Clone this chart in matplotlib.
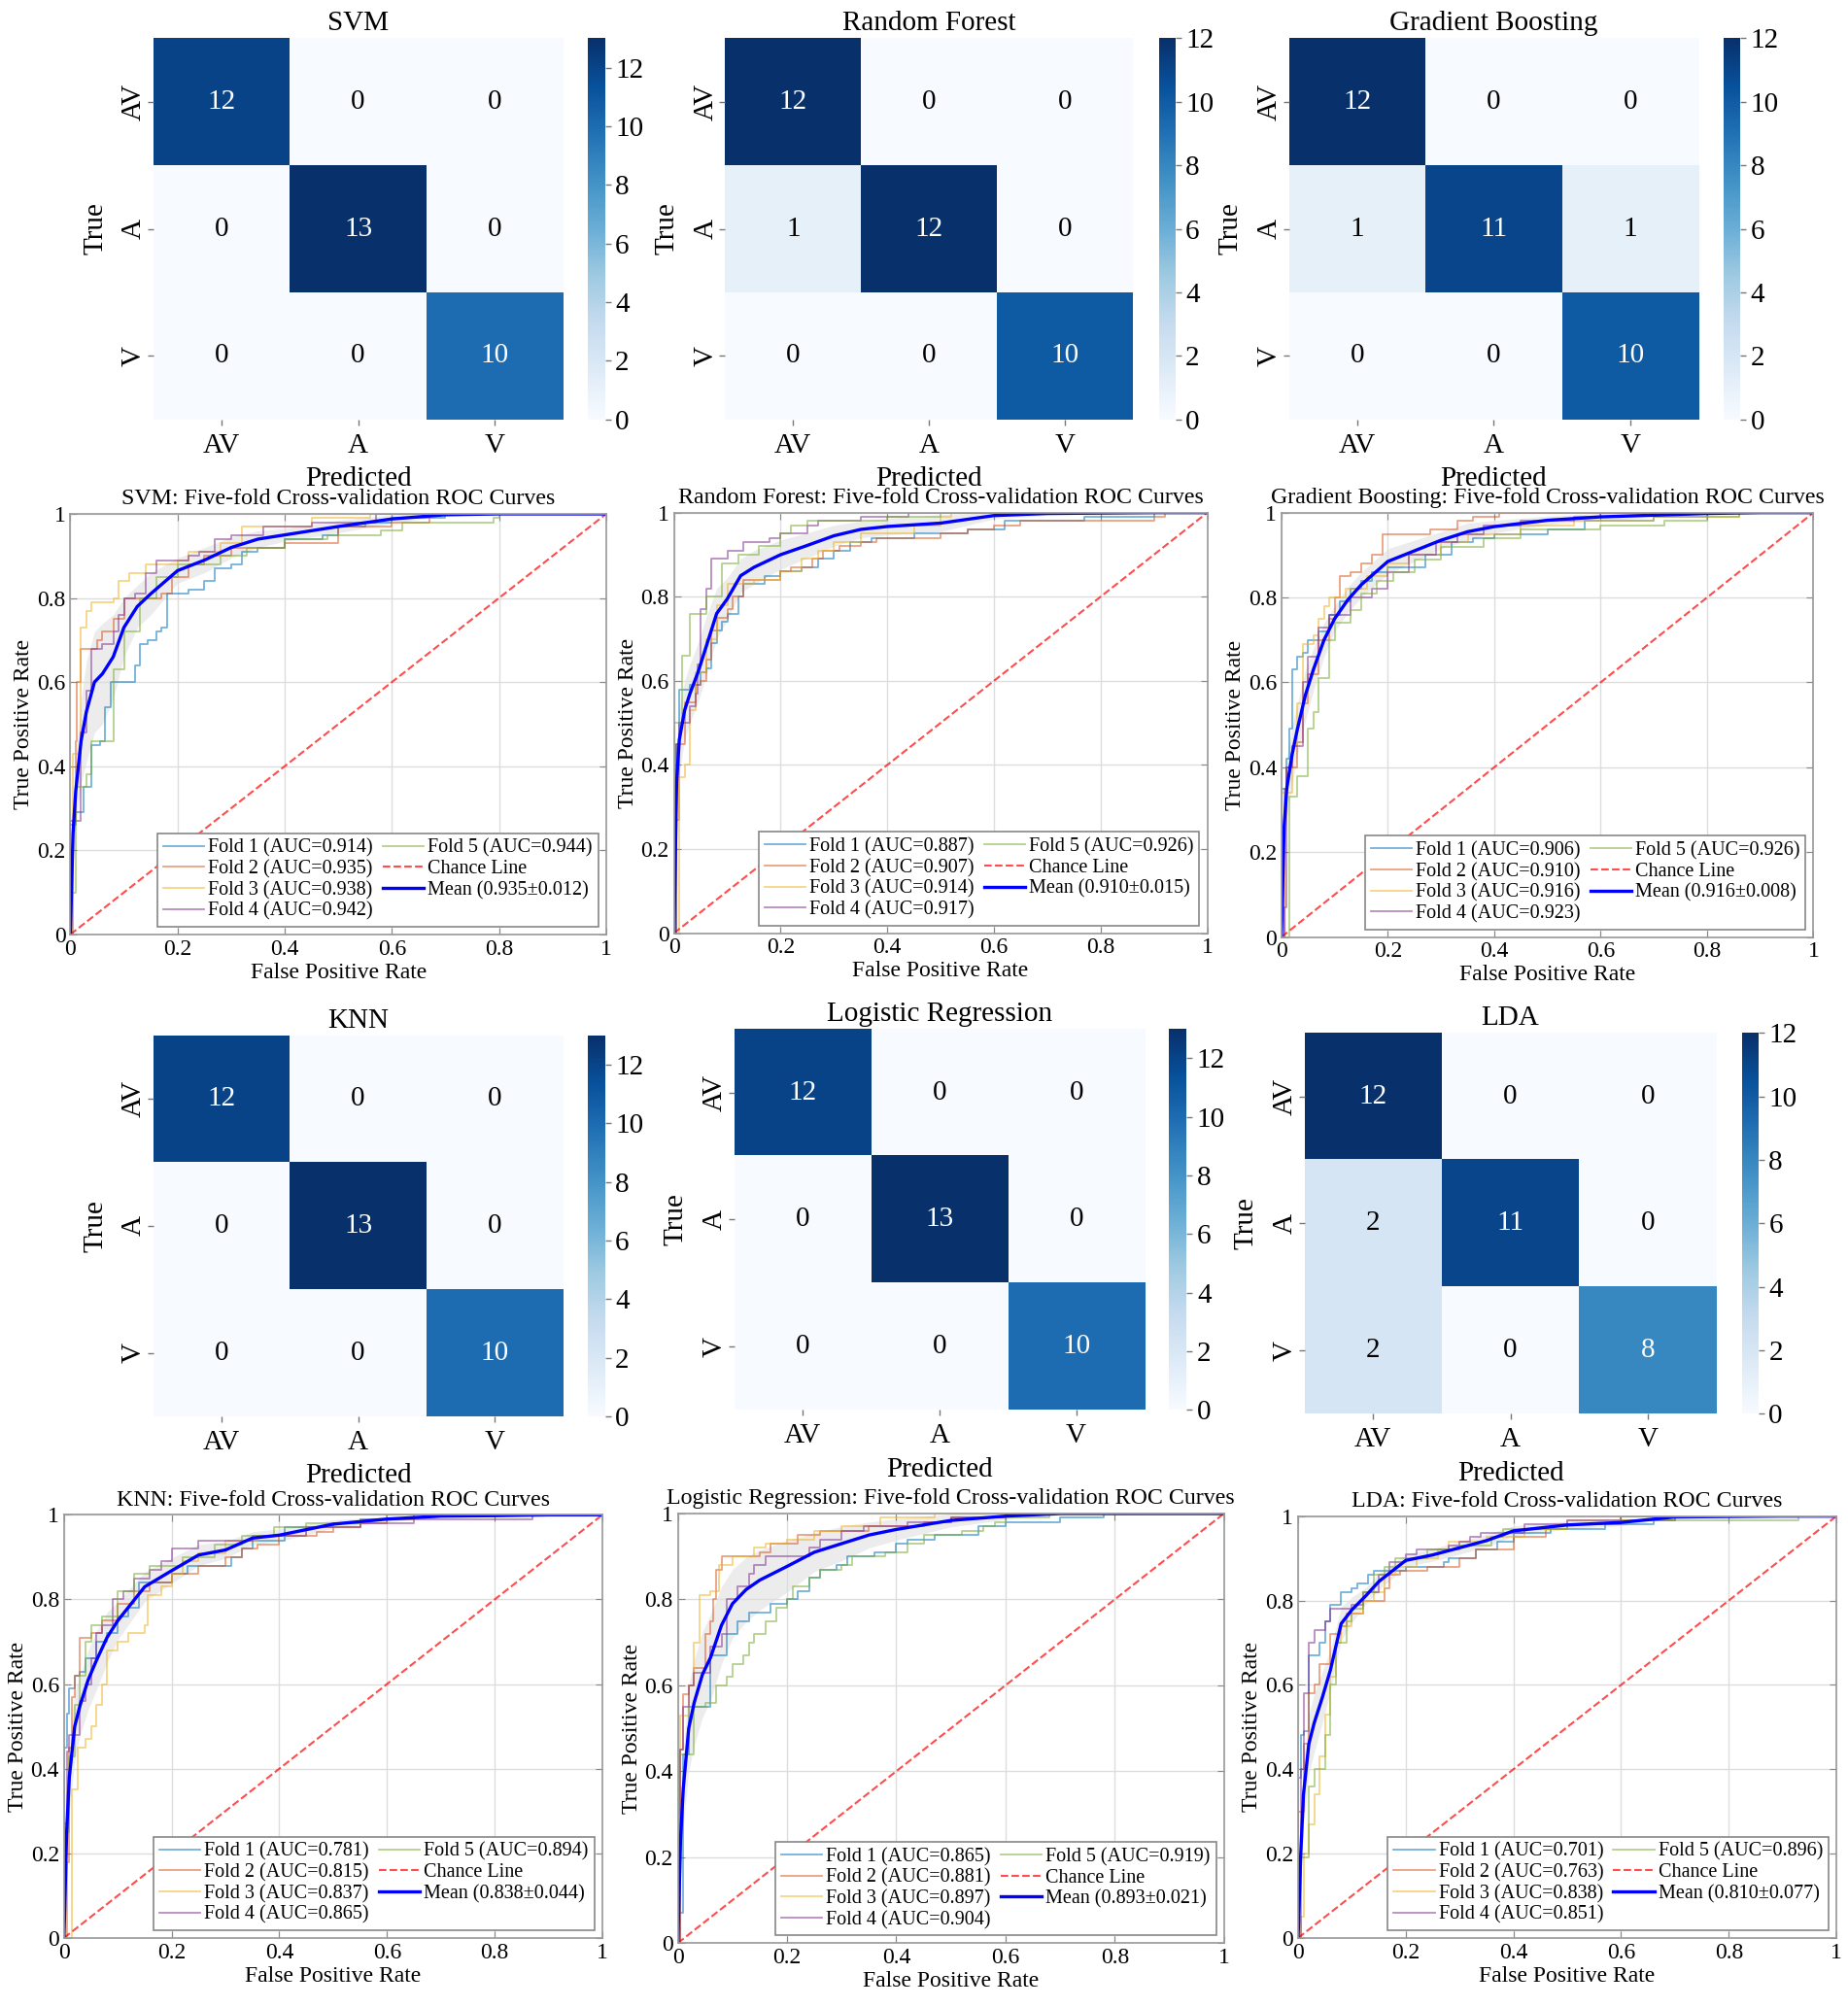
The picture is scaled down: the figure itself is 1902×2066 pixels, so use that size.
import numpy as np
import matplotlib
matplotlib.use('Agg')
import matplotlib.pyplot as plt
from matplotlib.ticker import FormatStrFormatter

plt.rcParams['font.family'] = ['Liberation Serif', 'DejaVu Serif']

# confusion matrix data (rows = true, cols = predicted)
classes = ['AV', 'A', 'V']
svm_cm = [[12, 0, 0], [0, 13, 0], [0, 0, 10]]
rf_cm = [[12, 0, 0], [1, 12, 0], [0, 0, 10]]
gb_cm = [[12, 0, 0], [1, 11, 1], [0, 0, 10]]
knn_cm = [[12, 0, 0], [0, 13, 0], [0, 0, 10]]
lr_cm = [[12, 0, 0], [0, 13, 0], [0, 0, 10]]
lda_cm = [[12, 0, 0], [2, 11, 0], [2, 0, 8]]

# ROC: fold curves as (fpr, tpr) corner points
svm_folds = [
    [(0, 0), (0, 0.26), (0.01, 0.29), (0.025, 0.35), (0.04, 0.45), (0.055, 0.46), (0.065, 0.54), (0.075, 0.60),
     (0.12, 0.64), (0.13, 0.69), (0.145, 0.70), (0.16, 0.72), (0.17, 0.73), (0.18, 0.81), (0.22, 0.82), (0.25, 0.84),
     (0.27, 0.87), (0.30, 0.88), (0.32, 0.91), (0.35, 0.92), (0.40, 0.94), (0.47, 0.95), (0.50, 0.97), (0.55, 0.98),
     (0.60, 0.99), (0.70, 1.0), (1, 1)],
    [(0, 0), (0.005, 0.27), (0.01, 0.46), (0.012, 0.60), (0.02, 0.68), (0.05, 0.70), (0.06, 0.72), (0.08, 0.75),
     (0.10, 0.80), (0.17, 0.81), (0.19, 0.85), (0.22, 0.88), (0.25, 0.90), (0.30, 0.92), (0.40, 0.93), (0.50, 0.97),
     (0.60, 0.98), (0.67, 1.0), (1, 1)],
    [(0, 0), (0.005, 0.43), (0.02, 0.73), (0.03, 0.77), (0.04, 0.79), (0.08, 0.80), (0.09, 0.84), (0.11, 0.86),
     (0.14, 0.88), (0.20, 0.89), (0.22, 0.91), (0.28, 0.93), (0.32, 0.97), (0.45, 0.99), (0.56, 1.0), (1, 1)],
    [(0, 0), (0, 0.27), (0.02, 0.48), (0.03, 0.58), (0.04, 0.68), (0.06, 0.69), (0.08, 0.72), (0.09, 0.76),
     (0.10, 0.80), (0.12, 0.81), (0.14, 0.86), (0.16, 0.89), (0.22, 0.90), (0.24, 0.91), (0.27, 0.94), (0.30, 0.95),
     (0.36, 0.97), (0.45, 0.98), (0.57, 1.0), (1, 1)],
    [(0, 0), (0, 0.10), (0.01, 0.35), (0.03, 0.38), (0.04, 0.46), (0.08, 0.63), (0.10, 0.72), (0.13, 0.80),
     (0.16, 0.85), (0.20, 0.88), (0.28, 0.90), (0.33, 0.92), (0.40, 0.94), (0.48, 0.95), (0.58, 0.96), (0.62, 0.98),
     (0.79, 0.99), (0.80, 1.0), (1, 1)],
]
rf_folds = [
    [(0, 0), (0.005, 0.45), (0.01, 0.58), (0.03, 0.59), (0.05, 0.62), (0.06, 0.63), (0.07, 0.69), (0.08, 0.72),
     (0.09, 0.74), (0.10, 0.76), (0.12, 0.80), (0.13, 0.83), (0.17, 0.85), (0.20, 0.86), (0.24, 0.87), (0.27, 0.89),
     (0.30, 0.91), (0.33, 0.93), (0.37, 0.94), (0.45, 0.95), (0.55, 0.96), (0.62, 0.98), (0.77, 0.99), (0.90, 1.0),
     (1, 1)],
    [(0, 0), (0, 0.27), (0.01, 0.45), (0.02, 0.55), (0.04, 0.59), (0.05, 0.60), (0.06, 0.65), (0.07, 0.72),
     (0.08, 0.75), (0.10, 0.77), (0.11, 0.80), (0.13, 0.84), (0.20, 0.86), (0.22, 0.87), (0.26, 0.89), (0.28, 0.91),
     (0.31, 0.92), (0.35, 0.93), (0.38, 0.94), (0.50, 0.95), (0.55, 0.96), (0.60, 0.97), (0.65, 0.98), (0.90, 0.99),
     (0.92, 1.0), (1, 1)],
    [(0, 0), (0.01, 0.37), (0.02, 0.40), (0.03, 0.53), (0.04, 0.62), (0.06, 0.70), (0.08, 0.78), (0.10, 0.83),
     (0.15, 0.84), (0.20, 0.86), (0.24, 0.89), (0.27, 0.91), (0.30, 0.93), (0.35, 0.95), (0.45, 0.97), (0.50, 0.99),
     (0.52, 1.0), (1, 1)],
    [(0, 0), (0.005, 0.45), (0.01, 0.50), (0.03, 0.54), (0.04, 0.57), (0.045, 0.64), (0.05, 0.77), (0.06, 0.82),
     (0.07, 0.89), (0.10, 0.91), (0.13, 0.93), (0.18, 0.94), (0.20, 0.95), (0.25, 0.97), (0.27, 0.98), (0.35, 0.99),
     (0.44, 1.0), (1, 1)],
    [(0, 0), (0, 0.50), (0.015, 0.66), (0.03, 0.76), (0.06, 0.80), (0.09, 0.88), (0.12, 0.90), (0.16, 0.92),
     (0.20, 0.95), (0.22, 0.97), (0.25, 0.98), (0.40, 0.99), (0.50, 1.0), (1, 1)],
]
gb_folds = [
    [(0, 0), (0, 0.35), (0.01, 0.42), (0.015, 0.49), (0.02, 0.63), (0.03, 0.66), (0.04, 0.67), (0.05, 0.70),
     (0.07, 0.72), (0.09, 0.76), (0.11, 0.79), (0.13, 0.82), (0.15, 0.84), (0.17, 0.86), (0.20, 0.87), (0.27, 0.90),
     (0.32, 0.93), (0.36, 0.94), (0.40, 0.95), (0.50, 0.96), (0.57, 0.98), (0.70, 0.99), (0.80, 1.0), (1, 1)],
    [(0, 0), (0.005, 0.35), (0.01, 0.40), (0.03, 0.46), (0.04, 0.55), (0.05, 0.62), (0.07, 0.70), (0.09, 0.75),
     (0.10, 0.80), (0.11, 0.85), (0.13, 0.86), (0.15, 0.88), (0.17, 0.90), (0.19, 0.95), (0.28, 0.96), (0.33, 0.98),
     (0.36, 0.99), (0.41, 1.0), (1, 1)],
    [(0, 0), (0, 0.34), (0.02, 0.45), (0.03, 0.55), (0.04, 0.69), (0.06, 0.71), (0.07, 0.75), (0.08, 0.78),
     (0.09, 0.80), (0.12, 0.82), (0.16, 0.85), (0.20, 0.88), (0.24, 0.90), (0.30, 0.93), (0.35, 0.95), (0.45, 0.97),
     (0.55, 0.98), (0.70, 0.99), (0.86, 1.0), (1, 1)],
    [(0, 0), (0.005, 0.07), (0.01, 0.40), (0.02, 0.45), (0.04, 0.60), (0.05, 0.66), (0.07, 0.73), (0.09, 0.76),
     (0.13, 0.80), (0.17, 0.82), (0.20, 0.86), (0.24, 0.90), (0.29, 0.93), (0.33, 0.95), (0.38, 0.97), (0.45, 0.98),
     (0.55, 0.99), (0.60, 1.0), (1, 1)],
    [(0, 0), (0.015, 0.33), (0.03, 0.38), (0.05, 0.49), (0.06, 0.53), (0.07, 0.61), (0.09, 0.70), (0.10, 0.74),
     (0.13, 0.77), (0.15, 0.81), (0.18, 0.84), (0.21, 0.86), (0.25, 0.89), (0.30, 0.92), (0.38, 0.94), (0.45, 0.96),
     (0.60, 0.97), (0.72, 0.98), (0.80, 0.99), (0.86, 1.0), (1, 1)],
]
knn_folds = [
    [(0, 0), (0, 0.45), (0.005, 0.53), (0.01, 0.59), (0.02, 0.62), (0.03, 0.63), (0.04, 0.66), (0.06, 0.70),
     (0.08, 0.72), (0.10, 0.76), (0.12, 0.78), (0.14, 0.84), (0.20, 0.86), (0.23, 0.88), (0.31, 0.90), (0.33, 0.92),
     (0.35, 0.94), (0.41, 0.97), (0.50, 0.98), (0.55, 0.99), (0.65, 1.0), (1, 1)],
    [(0, 0), (0.005, 0.18), (0.01, 0.45), (0.015, 0.57), (0.02, 0.62), (0.03, 0.71), (0.05, 0.72), (0.07, 0.75),
     (0.10, 0.79), (0.13, 0.82), (0.16, 0.84), (0.20, 0.86), (0.25, 0.88), (0.30, 0.90), (0.33, 0.92), (0.36, 0.93),
     (0.40, 0.95), (0.47, 0.96), (0.50, 0.97), (0.55, 0.98), (0.60, 0.99), (0.65, 1.0), (1, 1)],
    [(0, 0), (0.015, 0.35), (0.025, 0.45), (0.04, 0.47), (0.05, 0.50), (0.06, 0.55), (0.07, 0.60), (0.08, 0.68),
     (0.10, 0.70), (0.12, 0.72), (0.15, 0.74), (0.155, 0.81), (0.18, 0.83), (0.20, 0.86), (0.22, 0.89), (0.25, 0.91),
     (0.30, 0.94), (0.36, 0.95), (0.45, 0.97), (0.55, 0.99), (0.60, 1.0), (1, 1)],
    [(0, 0), (0, 0.27), (0.005, 0.44), (0.01, 0.48), (0.03, 0.56), (0.04, 0.60), (0.05, 0.66), (0.06, 0.72),
     (0.07, 0.74), (0.09, 0.80), (0.11, 0.82), (0.13, 0.85), (0.16, 0.87), (0.18, 0.89), (0.20, 0.92), (0.25, 0.94),
     (0.35, 0.95), (0.45, 0.97), (0.55, 0.98), (0.65, 0.99), (0.87, 1.0), (1, 1)],
    [(0, 0), (0, 0.25), (0.01, 0.43), (0.02, 0.55), (0.03, 0.62), (0.04, 0.70), (0.05, 0.74), (0.07, 0.76),
     (0.10, 0.82), (0.13, 0.86), (0.16, 0.88), (0.22, 0.90), (0.28, 0.93), (0.33, 0.95), (0.39, 0.97), (0.45, 0.98),
     (0.55, 0.99), (0.60, 1.0), (1, 1)],
]
lr_folds = [
    [(0, 0), (0, 0.07), (0.01, 0.44), (0.02, 0.55), (0.06, 0.67), (0.09, 0.72), (0.11, 0.75), (0.13, 0.77),
     (0.17, 0.79), (0.20, 0.80), (0.22, 0.82), (0.24, 0.85), (0.26, 0.87), (0.29, 0.88), (0.31, 0.90), (0.36, 0.91),
     (0.40, 0.93), (0.42, 0.94), (0.47, 0.95), (0.55, 0.97), (0.60, 0.98), (0.70, 0.99), (0.78, 1.0), (1, 1)],
    [(0, 0), (0.005, 0.45), (0.01, 0.58), (0.02, 0.60), (0.03, 0.64), (0.05, 0.72), (0.06, 0.75), (0.065, 0.80),
     (0.07, 0.87), (0.08, 0.90), (0.15, 0.91), (0.17, 0.93), (0.22, 0.95), (0.26, 0.96), (0.35, 0.97), (0.45, 0.98),
     (0.50, 0.99), (0.60, 1.0), (1, 1)],
    [(0, 0), (0.005, 0.53), (0.02, 0.60), (0.03, 0.70), (0.04, 0.81), (0.06, 0.82), (0.075, 0.88), (0.10, 0.90),
     (0.14, 0.92), (0.16, 0.93), (0.20, 0.94), (0.25, 0.96), (0.30, 0.97), (0.37, 0.99), (0.47, 1.0), (1, 1)],
    [(0, 0), (0.005, 0.45), (0.01, 0.55), (0.02, 0.60), (0.03, 0.63), (0.06, 0.69), (0.08, 0.72), (0.09, 0.80),
     (0.11, 0.83), (0.13, 0.86), (0.14, 0.88), (0.16, 0.90), (0.24, 0.92), (0.26, 0.94), (0.30, 0.96), (0.34, 0.97),
     (0.42, 0.98), (0.50, 0.99), (0.60, 1.0), (1, 1)],
    [(0, 0), (0, 0.44), (0.03, 0.55), (0.05, 0.56), (0.07, 0.60), (0.09, 0.62), (0.10, 0.65), (0.12, 0.67),
     (0.13, 0.70), (0.14, 0.72), (0.16, 0.75), (0.18, 0.78), (0.20, 0.80), (0.21, 0.83), (0.24, 0.85), (0.26, 0.87),
     (0.30, 0.88), (0.32, 0.90), (0.38, 0.91), (0.42, 0.93), (0.45, 0.95), (0.52, 0.96), (0.56, 0.97), (0.58, 0.98),
     (0.60, 0.99), (0.68, 1.0), (1, 1)],
]
lda_folds = [
    [(0, 0), (0, 0.38), (0.005, 0.48), (0.01, 0.49), (0.02, 0.67), (0.04, 0.70), (0.05, 0.75), (0.06, 0.79),
     (0.08, 0.82), (0.10, 0.83), (0.11, 0.84), (0.13, 0.86), (0.14, 0.87), (0.20, 0.88), (0.27, 0.89), (0.28, 0.90),
     (0.33, 0.92), (0.37, 0.94), (0.40, 0.96), (0.47, 0.97), (0.57, 0.98), (0.66, 0.99), (0.70, 1.0), (1, 1)],
    [(0, 0), (0, 0.30), (0.01, 0.46), (0.02, 0.58), (0.03, 0.60), (0.04, 0.65), (0.06, 0.72), (0.08, 0.74),
     (0.09, 0.77), (0.12, 0.80), (0.16, 0.83), (0.17, 0.86), (0.19, 0.87), (0.24, 0.88), (0.30, 0.90), (0.33, 0.92),
     (0.40, 0.95), (0.46, 0.97), (0.50, 0.98), (0.60, 0.99), (0.70, 1.0), (1, 1)],
    [(0, 0), (0.005, 0.05), (0.01, 0.20), (0.02, 0.27), (0.03, 0.34), (0.04, 0.43), (0.05, 0.53), (0.06, 0.62),
     (0.07, 0.70), (0.08, 0.74), (0.10, 0.77), (0.12, 0.80), (0.14, 0.82), (0.16, 0.86), (0.18, 0.88), (0.22, 0.90),
     (0.26, 0.92), (0.28, 0.94), (0.35, 0.95), (0.42, 0.97), (0.50, 0.99), (0.60, 1.0), (1, 1)],
    [(0, 0), (0.005, 0.40), (0.01, 0.58), (0.02, 0.70), (0.03, 0.73), (0.05, 0.75), (0.06, 0.78), (0.10, 0.79),
     (0.12, 0.82), (0.15, 0.86), (0.17, 0.89), (0.20, 0.91), (0.22, 0.92), (0.28, 0.93), (0.30, 0.94), (0.32, 0.95),
     (0.34, 0.96), (0.42, 0.98), (0.50, 0.99), (0.60, 1.0), (1, 1)],
    [(0, 0), (0, 0.19), (0.02, 0.36), (0.03, 0.40), (0.05, 0.48), (0.06, 0.60), (0.07, 0.70), (0.09, 0.75),
     (0.10, 0.78), (0.12, 0.82), (0.14, 0.86), (0.16, 0.88), (0.18, 0.90), (0.24, 0.92), (0.30, 0.93), (0.36, 0.95),
     (0.38, 0.97), (0.50, 0.98), (0.60, 0.99), (0.93, 1.0), (1, 1)],
]

svm_auc = [0.914, 0.935, 0.938, 0.942, 0.944]
rf_auc = [0.887, 0.907, 0.914, 0.917, 0.926]
gb_auc = [0.906, 0.910, 0.916, 0.923, 0.926]
knn_auc = [0.781, 0.815, 0.837, 0.865, 0.894]
lr_auc = [0.865, 0.881, 0.897, 0.904, 0.919]
lda_auc = [0.701, 0.763, 0.838, 0.851, 0.896]
mean_auc = {'SVM': (0.935, 0.012), 'Random Forest': (0.910, 0.015), 'Gradient Boosting': (0.916, 0.008),
            'KNN': (0.838, 0.044), 'Logistic Regression': (0.893, 0.021), 'LDA': (0.810, 0.077)}

# mean ROC (and its spread) on a shared fpr grid
mean_fpr = [0, 0.005, 0.01, 0.02, 0.03, 0.045, 0.06, 0.08, 0.1, 0.125, 0.15, 0.2, 0.25, 0.3, 0.35, 0.4,
            0.5, 0.6, 0.7, 0.8, 0.9, 1.0]
svm_mean = [0, 0.24, 0.34, 0.46, 0.53, 0.60, 0.62, 0.66, 0.73, 0.78, 0.81, 0.865, 0.89, 0.92, 0.94, 0.95,
            0.97, 0.988, 0.998, 1.0, 1.0, 1.0]
svm_std = [0, 0.06, 0.08, 0.10, 0.12, 0.12, 0.12, 0.10, 0.07, 0.05, 0.05, 0.03, 0.03, 0.025, 0.02, 0.015,
           0.015, 0.01, 0.003, 0, 0, 0]
rf_mean = [0, 0.36, 0.46, 0.53, 0.57, 0.62, 0.68, 0.76, 0.795, 0.85, 0.87, 0.90, 0.922, 0.945, 0.96, 0.967,
           0.975, 0.993, 0.998, 0.999, 1.0, 1.0]
rf_std = [0, 0.08, 0.08, 0.07, 0.07, 0.07, 0.07, 0.06, 0.05, 0.04, 0.04, 0.035, 0.03, 0.025, 0.02, 0.02,
          0.02, 0.008, 0.004, 0.002, 0, 0]
gb_mean = [0, 0.26, 0.35, 0.43, 0.49, 0.57, 0.63, 0.70, 0.75, 0.795, 0.83, 0.885, 0.91, 0.935, 0.955, 0.967,
           0.982, 0.99, 0.994, 0.998, 1.0, 1.0]
gb_std = [0, 0.06, 0.07, 0.07, 0.06, 0.06, 0.05, 0.04, 0.03, 0.03, 0.03, 0.03, 0.025, 0.02, 0.02, 0.015,
          0.01, 0.008, 0.005, 0.002, 0, 0]
knn_mean = [0, 0.25, 0.38, 0.50, 0.55, 0.61, 0.655, 0.71, 0.75, 0.79, 0.83, 0.868, 0.905, 0.917, 0.945, 0.952,
            0.978, 0.99, 0.997, 0.998, 1.0, 1.0]
knn_std = [0, 0.08, 0.08, 0.08, 0.07, 0.07, 0.07, 0.06, 0.045, 0.04, 0.035, 0.03, 0.025, 0.02, 0.015, 0.015,
           0.01, 0.006, 0.003, 0.002, 0, 0]
lr_mean = [0, 0.24, 0.36, 0.50, 0.56, 0.625, 0.665, 0.74, 0.79, 0.823, 0.845, 0.877, 0.91, 0.93, 0.95, 0.963,
           0.984, 0.994, 1.0, 1.0, 1.0, 1.0]
lr_std = [0, 0.08, 0.09, 0.10, 0.10, 0.10, 0.10, 0.09, 0.08, 0.075, 0.07, 0.06, 0.045, 0.04, 0.03, 0.025,
          0.015, 0.008, 0.003, 0.002, 0, 0]
lda_mean = [0, 0.20, 0.34, 0.46, 0.51, 0.57, 0.635, 0.745, 0.778, 0.81, 0.845, 0.895, 0.908, 0.925, 0.942, 0.965,
            0.979, 0.985, 0.998, 0.999, 1.0, 1.0]
lda_std = [0, 0.07, 0.07, 0.07, 0.07, 0.06, 0.05, 0.04, 0.03, 0.02, 0.02, 0.015, 0.015, 0.015, 0.015, 0.012,
           0.01, 0.008, 0.003, 0.002, 0, 0]

fold_colors = [(0, 0.447, 0.741), (0.85, 0.325, 0.098), (0.929, 0.694, 0.125),
               (0.494, 0.184, 0.556), (0.466, 0.674, 0.188)]

W, H = 1445, 1570
fig = plt.figure(figsize=(19.02, 20.66), dpi=100)


def box(x0, y0, x1, y1):
    return [x0 / W, 1 - y1 / H, (x1 - x0) / W, (y1 - y0) / H]


def draw_cm(hm_box, cb_box, cm, title):
    ax = fig.add_axes(box(*hm_box))
    cax = fig.add_axes(box(*cb_box))
    cm = np.array(cm)
    vmax = cm.max()
    im = ax.imshow(cm, cmap='Blues', vmin=0, vmax=vmax, aspect='auto', interpolation='nearest')
    for i in range(3):
        for j in range(3):
            v = cm[i, j]
            ax.text(j, i, str(v), ha='center', va='center', fontsize=21,
                    color='white' if v > vmax * 0.5 else 'black')
    ax.set_xticks(range(3))
    ax.set_yticks(range(3))
    ax.set_xticklabels(classes, fontsize=21)
    ax.set_yticklabels(classes, fontsize=21, rotation=90, va='center')
    ax.tick_params(axis='x', length=4, width=1, color='#777777', pad=6)
    ax.tick_params(axis='y', length=4, width=1, color='#777777', pad=1)
    for s in ax.spines.values():
        s.set_visible(False)
    ax.set_xlabel('Predicted', fontsize=21, labelpad=6)
    ax.set_ylabel('True', fontsize=21, labelpad=10)
    ax.set_title(title, fontsize=21, pad=6)
    cb = fig.colorbar(im, cax=cax)
    cb.outline.set_visible(False)
    cb.set_ticks(range(0, 13, 2))
    cb.ax.tick_params(labelsize=21, length=4, width=1, color='#777777')


def draw_roc(ax_box, title, folds, aucs, mtpr, stpr):
    ax = fig.add_axes(box(*ax_box))
    for i, pts in enumerate(folds):
        xs = [p[0] for p in pts]
        ys = [p[1] for p in pts]
        ax.plot(xs, ys, drawstyle='steps-post', color=fold_colors[i], lw=1.3, alpha=0.55,
                label='Fold %d (AUC=%.3f)' % (i + 1, aucs[i]))
    ax.plot([0, 1], [0, 1], '--', color='red', alpha=0.7, lw=1.5, label='Chance Line')
    m = np.array(mtpr)
    s = np.array(stpr)
    ma, sa = mean_auc[title]
    ax.plot(mean_fpr, m, color='blue', lw=2.4, label='Mean (%.3f\u00b1%.3f)' % (ma, sa))
    ax.fill_between(mean_fpr, np.clip(m - s, 0, 1), np.clip(m + s, 0, 1), color='grey', alpha=0.15, lw=0)
    ax.set_xlim(0, 1)
    ax.set_ylim(0, 1)
    ax.set_xticks(np.arange(0, 1.01, 0.2))
    ax.set_yticks(np.arange(0, 1.01, 0.2))
    ax.xaxis.set_major_formatter(FormatStrFormatter('%g'))
    ax.yaxis.set_major_formatter(FormatStrFormatter('%g'))
    ax.grid(True, color='#dddddd', lw=1)
    ax.tick_params(direction='in', length=5, labelsize=17, color='#888888', top=True, right=True)
    for sp in ax.spines.values():
        sp.set_color('#999999')
        sp.set_linewidth(1.2)
    ax.set_xlabel('False Positive Rate', fontsize=17, labelpad=2)
    ax.set_ylabel('True Positive Rate', fontsize=17, labelpad=2)
    ax.set_title(title + ': Five-fold Cross-validation ROC Curves', fontsize=17.2, pad=7)
    leg = ax.legend(loc='lower right', ncol=2, fontsize=14.5, fancybox=False, edgecolor='#888888',
                    framealpha=1, handlelength=2.1, handletextpad=0.2, columnspacing=0.5,
                    labelspacing=0.12, borderpad=0.3, borderaxespad=0.4)
    leg.get_frame().set_linewidth(1.2)


# row 1: confusion matrices
draw_cm((120, 30, 440, 328), (460, 30, 473, 328), svm_cm, 'SVM')
draw_cm((567, 30, 886, 328), (906, 30, 919, 328), rf_cm, 'Random Forest')
draw_cm((1008, 30, 1328, 328), (1348, 30, 1361, 328), gb_cm, 'Gradient Boosting')

# row 2: ROC curves
draw_roc((55, 402, 474, 731), 'SVM', svm_folds, svm_auc, svm_mean, svm_std)
draw_roc((527, 401, 944, 730), 'Random Forest', rf_folds, rf_auc, rf_mean, rf_std)
draw_roc((1002, 401, 1418, 733), 'Gradient Boosting', gb_folds, gb_auc, gb_mean, gb_std)

# row 3: confusion matrices
draw_cm((120, 810, 440, 1108), (460, 810, 473, 1108), knn_cm, 'KNN')
draw_cm((574, 805, 895, 1103), (914, 805, 928, 1103), lr_cm, 'Logistic Regression')
draw_cm((1020, 808, 1342, 1106), (1362, 808, 1375, 1106), lda_cm, 'LDA')

# row 4: ROC curves
draw_roc((50, 1185, 471, 1516), 'KNN', knn_folds, knn_auc, knn_mean, knn_std)
draw_roc((530, 1184, 957, 1520), 'Logistic Regression', lr_folds, lr_auc, lr_mean, lr_std)
draw_roc((1015, 1186, 1436, 1516), 'LDA', lda_folds, lda_auc, lda_mean, lda_std)

fig.savefig('out.png', dpi=100)
